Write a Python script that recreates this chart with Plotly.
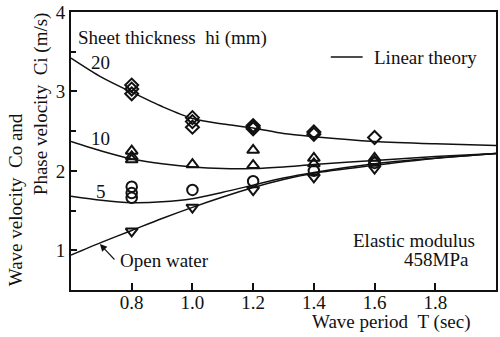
import plotly.graph_objects as go

# ---- data ----
T_curve = [0.6, 0.7, 0.8, 0.9, 1.0, 1.1, 1.2, 1.3, 1.4, 1.6, 1.8, 2.0]
theory_20 = [3.42, 3.18, 2.99, 2.81, 2.66, 2.59, 2.54, 2.47, 2.43, 2.37, 2.34, 2.32]
theory_10 = [2.37, 2.25, 2.15, 2.09, 2.05, 2.03, 2.03, 2.05, 2.08, 2.13, 2.18, 2.22]
theory_5 = [1.68, 1.63, 1.60, 1.61, 1.65, 1.73, 1.82, 1.91, 1.98, 2.09, 2.16, 2.22]
theory_ow = [0.94, 1.10, 1.25, 1.40, 1.54, 1.67, 1.79, 1.89, 1.97, 2.07, 2.16, 2.22]

T_20 = [0.8, 0.8, 0.8, 1.0, 1.0, 1.0, 1.2, 1.2, 1.2, 1.4, 1.4, 1.6]
C_20 = [3.08, 3.03, 2.97, 2.67, 2.62, 2.55, 2.57, 2.55, 2.53, 2.49, 2.46, 2.42]

T_10 = [0.8, 0.8, 0.8, 1.0, 1.2, 1.2, 1.4, 1.4, 1.6, 1.6]
C_10 = [2.25, 2.18, 2.14, 2.08, 2.26, 2.07, 2.16, 2.09, 2.16, 2.12]

T_5 = [0.8, 0.8, 0.8, 1.0, 1.2, 1.4, 1.6]
C_5 = [1.80, 1.72, 1.66, 1.76, 1.87, 2.00, 2.10]

T_ow = [0.8, 1.0, 1.2, 1.4, 1.6]
C_ow = [1.24, 1.54, 1.76, 1.92, 2.03]

x_ticks = [0.8, 1.0, 1.2, 1.4, 1.6, 1.8]
x_ticktext = ["0.8", "1.0", "1.2", "1.4", "1.6", "1.8"]
y_ticks = [1, 2, 3, 4]

FONT = "Liberation Serif, Times New Roman, serif"
FS = 19
INK = "#111111"
NB = "\u00a0"

fig = go.Figure()

for ys in [theory_20, theory_10, theory_5, theory_ow]:
    fig.add_trace(go.Scatter(x=T_curve, y=ys, mode="lines",
                             line=dict(color=INK, width=1.5, shape="spline", smoothing=0.8),
                             showlegend=False, hoverinfo="skip"))

def markers(x, y, sym, size):
    fig.add_trace(go.Scatter(x=x, y=y, mode="markers", showlegend=False,
                             marker=dict(symbol=sym, size=size, color=INK,
                                         line=dict(color=INK, width=2))))

markers(T_20, C_20, "diamond-open", 10)
markers(T_10, C_10, "triangle-up-open", 10.5)
markers(T_5, C_5, "circle-open", 10.5)
markers(T_ow, C_ow, "triangle-down-open", 10.5)

def px2x(px):
    return (px - 71) / 427.0

def px2y(py):
    return (290 - py) / 278.0

ann = []
def txt(s, px, py, xa="left", angle=0):
    ann.append(dict(text=s, x=px2x(px), y=px2y(py), xref="paper", yref="paper",
                    xanchor=xa, yanchor="middle", showarrow=False, textangle=angle,
                    font=dict(family=FONT, size=FS, color=INK)))

txt("Sheet thickness" + NB + NB + "hi (mm)", 76, 38)
txt("20", 101, 62, "center")
txt("10", 101, 138, "center")
txt("5", 101, 191, "center")
txt("Linear theory", 373, 57)
txt("Open water", 118, 260)
txt("Elastic modulus", 479, 240, "right")
txt("458MPa", 473, 259, "right")
txt("Wave period" + NB + NB + "T (sec)", 393, 322, "center")
txt("Wave velocity" + NB + NB + "Co and", 15, 200, "center", -90)
txt("Phase velocity" + NB + NB + "Ci (m/s)", 41, 104, "center", -90)

# arrow pointing to the open water curve
ann.append(dict(x=px2x(100), y=px2y(244), ax=16, ay=17,
                xref="paper", yref="paper", axref="pixel", ayref="pixel",
                text="", showarrow=True, arrowhead=2, arrowsize=1.3,
                arrowwidth=1.1, arrowcolor=INK, standoff=0))

fig.update_layout(
    width=500, height=337,
    margin=dict(l=71, r=2, t=12, b=47),
    paper_bgcolor="white", plot_bgcolor="white",
    annotations=ann,
    shapes=[dict(type="line", xref="paper", yref="paper",
                 x0=px2x(332), x1=px2x(364), y0=px2y(57), y1=px2y(57),
                 line=dict(color=INK, width=1.5))],
    font=dict(family=FONT, size=FS, color=INK),
)
fig.update_xaxes(range=[0.6, 2.0], tickvals=x_ticks, ticktext=x_ticktext,
                 ticks="inside", ticklen=7, tickwidth=1.5, tickcolor=INK,
                 ticklabelstandoff=-6,
                 showline=True, linecolor=INK, linewidth=1.8, mirror=True,
                 showgrid=False, zeroline=False,
                 tickfont=dict(family=FONT, size=FS, color=INK))
fig.update_yaxes(range=[0.5, 4.0], tickvals=y_ticks,
                 ticks="inside", ticklen=6, tickwidth=1.5, tickcolor=INK,
                 minor=dict(ticks="inside", dtick=0.5, tick0=0.5, ticklen=5,
                            tickwidth=1.5, tickcolor=INK),
                 showline=True, linecolor=INK, linewidth=1.8, mirror=True,
                 showgrid=False, zeroline=False,
                 tickfont=dict(family=FONT, size=FS, color=INK))

fig.write_html("out.html")
